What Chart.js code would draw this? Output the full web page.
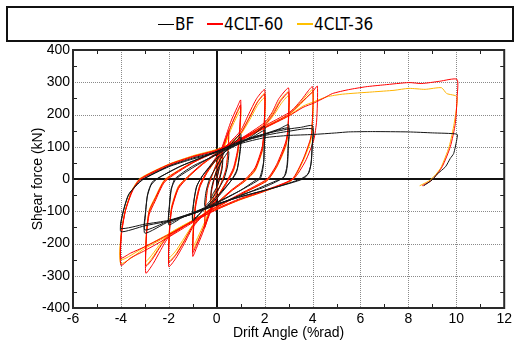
<!DOCTYPE html>
<html>
<head>
<meta charset="utf-8">
<script src="https://cdn.jsdelivr.net/npm/chart.js@4.4.1/dist/chart.umd.min.js"></script>
<style>
  html, body { margin: 0; padding: 0; background: #fff; }
  #wrap { position: relative; width: 515px; height: 343px; overflow: hidden; }
  #chart { position: absolute; left: 0; top: 0; }
  #legend {
    position: absolute; left: 6px; top: 6px; width: 508px; height: 36px;
    box-sizing: border-box; border: 2px solid #111; background: #fff;
    font-family: "Liberation Sans Narrow", "DejaVu Sans Condensed", "Liberation Sans", sans-serif;
    font-size: 17px; color: #000;
  }
  .item { position: absolute; top: 6px; line-height: 20px; white-space: nowrap; }
  .swatch { display: inline-block; width: 16px; vertical-align: middle; margin-right: 1px; position: relative; top: -1px; }
</style>
</head>
<body>
<div id="wrap">
  <canvas id="chart" width="515" height="343"></canvas>
  <div id="legend">
    <span class="item" style="left:150px"><span class="swatch" style="border-top:1.5px solid #000"></span>BF</span>
    <span class="item" style="left:199px"><span class="swatch" style="border-top:2px solid #ff0000"></span>4CLT-60</span>
    <span class="item" style="left:289px"><span class="swatch" style="border-top:2px solid #ffc000"></span>4CLT-36</span>
  </div>
</div>
<script>
// Axis ticks
const driftTicks = [-6, -4, -2, 0, 2, 4, 6, 8, 10, 12];
const shearTicks = [-400, -300, -200, -100, 0, 100, 200, 300, 400];

// Series names and colours
const seriesNames = ['BF', '4CLT-60', '4CLT-36'];
const seriesColors = ['#141414', '#ff0000', '#ffb400'];

// BF: [drift %rad, shear kN] along the loading history
const bfPath = [
  [0,0],[0.15,45],[0.25,60],[0.22,30],[0.1,-5],[0,-25],[-0.15,-45],[-0.25,-60],[-0.22,-30],[-0.1,5],[0,25],
  [0.25,60],[0.5,85],[0.45,40],[0.3,0],[0,-40],[-0.25,-65],[-0.5,-85],[-0.45,-40],[-0.3,0],[0,40],
  [0.3,80],[0.6,108],[1.0,140],[0.97,90],[0.85,30],[0.6,-5],[0,-55],[-0.5,-90],[-1.0,-130],[-0.97,-80],[-0.85,-25],[-0.6,10],[0,60],
  [0.5,95],[1.0,130],[0.97,80],[0.82,20],[0.5,-15],[0,-60],[-0.5,-92],[-1.0,-125],[-0.97,-75],[-0.82,-20],[-0.5,20],[0,65],
  [0.5,92],[1.0,112],[1.5,135],[2.0,163],[1.99,120],[1.97,60],[1.9,20],[1.8,0],[1.0,-35],[0,-72],[-1.0,-105],[-1.5,-122],[-2.0,-142],[-1.98,-90],[-1.9,-35],[-1.75,0],[-1.0,40],[0,75],
  [0.5,95],[1.0,112],[1.5,130],[2.0,150],[1.98,100],[1.95,50],[1.8,5],[1.6,-5],[1.0,-35],[0,-75],[-1.0,-108],[-1.5,-120],[-2.0,-135],[-1.98,-85],[-1.9,-30],[-1.7,0],[-1.0,35],[0,78],
  [1.0,115],[2.0,140],[2.6,155],[3.0,168],[2.99,110],[2.96,50],[2.88,15],[2.7,0],[2.0,-25],[1.0,-50],[0,-80],[-1.0,-108],[-2.0,-132],[-3.0,-168],[-2.98,-115],[-2.9,-55],[-2.75,-20],[-2.5,0],[-1.5,40],[0,85],
  [1.0,115],[2.0,138],[3.0,158],[2.98,100],[2.93,40],[2.8,5],[2.5,-5],[1.0,-52],[0,-80],[-1.0,-108],[-2.0,-130],[-3.0,-158],[-2.97,-100],[-2.88,-45],[-2.7,-10],[-2.4,5],[-1.5,40],[0,85],
  [1.0,118],[2.0,140],[3.0,155],[3.5,160],[4.0,165],[3.99,110],[3.95,55],[3.85,20],[3.6,0],[2.5,-25],[1.0,-55],[0,-78],[-1.0,-105],[-2.0,-130],[-3.0,-145],[-4.0,-163],[-3.93,-111],[-3.69,-50],[-3.13,-3],[-2.0,40],[-1.0,65],[0,85],
  [1.0,115],[2.0,135],[3.0,148],[4.0,155],[3.98,100],[3.93,45],[3.8,15],[3.5,0],[2.5,-25],[1.0,-55],[0,-78],[-1.0,-105],[-2.0,-128],[-3.0,-140],[-4.0,-153],[-3.92,-105],[-3.65,-45],[-3.1,-3],[-2.0,38],[-1.0,62],[0,82],
  [1.0,110],[2.0,128],[3.0,135],[4.0,138],[5.0,143],[5.5,146],[6.5,147],[8.0,146],[9.0,143],[10.03,139],[10.03,126],[9.89,79],[9.75,64],[9.55,38],[9.2,15],[8.99,-3],[8.64,-21]
];

// 4CLT-60
const clt60Path = [
  [0,0],[0.1,40],[0.25,90],[0.22,40],[0.1,0],[0,-30],[-0.1,-50],[-0.25,-90],[-0.22,-40],[-0.1,0],[0,30],
  [0.2,80],[0.35,115],[0.5,150],[0.47,90],[0.38,30],[0.2,-10],[0,-45],[-0.2,-85],[-0.35,-115],[-0.5,-150],[-0.47,-90],[-0.38,-30],[-0.2,10],[0,50],
  [0.3,115],[0.6,180],[0.85,222],[1.0,245],[0.97,170],[0.88,95],[0.7,35],[0.4,-10],[0,-60],[-0.3,-110],[-0.6,-170],[-0.85,-215],[-1.0,-240],[-0.97,-160],[-0.88,-85],[-0.7,-25],[-0.4,20],[0,65],
  [0.3,110],[0.6,165],[0.85,208],[1.0,230],[0.97,160],[0.88,85],[0.7,28],[0.4,-15],[0,-62],[-0.3,-105],[-0.6,-160],[-0.85,-205],[-1.0,-228],[-0.97,-150],[-0.88,-75],[-0.7,-18],[-0.4,25],[0,70],
  [0.5,110],[1.0,150],[1.32,199],[1.67,250],[2.0,277],[1.97,155],[1.9,100],[1.6,35],[1.2,0],[0.6,-35],[0,-75],[-0.6,-115],[-1.0,-150],[-1.35,-200],[-1.7,-245],[-2.0,-272],[-1.97,-165],[-1.88,-95],[-1.6,-30],[-1.2,5],[-0.6,45],[0,78],
  [0.5,108],[1.0,142],[1.35,188],[1.7,238],[2.0,262],[1.97,145],[1.9,90],[1.6,28],[1.2,-5],[0.6,-38],[0,-78],[-0.6,-115],[-1.0,-145],[-1.35,-192],[-1.7,-235],[-2.0,-258],[-1.97,-155],[-1.88,-88],[-1.6,-25],[-1.2,8],[-0.6,48],[0,82],
  [1.0,125],[2.0,175],[2.3,205],[2.6,250],[3.0,282],[2.97,155],[2.88,115],[2.5,45],[2.1,0],[1.0,-45],[0,-85],[-1.0,-130],[-2.0,-180],[-2.35,-222],[-2.65,-262],[-2.96,-292],[-2.93,-173],[-2.82,-110],[-2.58,-70],[-2.16,-8],[-1.0,50],[0,85],
  [1.0,122],[2.0,168],[2.35,200],[2.65,240],[3.0,268],[2.97,145],[2.88,105],[2.5,38],[2.1,-5],[1.0,-48],[0,-88],[-1.0,-130],[-2.0,-175],[-2.4,-215],[-2.7,-250],[-2.96,-270],[-2.93,-165],[-2.82,-100],[-2.58,-62],[-2.16,-3],[-1.0,52],[0,88],
  [1.0,125],[2.0,165],[3.0,205],[3.26,222],[3.53,245],[4.0,286],[3.97,150],[3.9,121],[3.6,60],[3.15,0],[2.0,-35],[1.0,-60],[0,-92],[-1.0,-135],[-2.0,-180],[-3.0,-222],[-3.6,-245],[-4.0,-268],[-3.98,-175],[-3.82,-101],[-3.55,-39],[-3.2,0],[-2.0,45],[-1.0,70],[0,90],
  [1.0,122],[2.0,160],[3.0,200],[3.5,235],[4.0,270],[4.2,288],[4.17,180],[4.05,121],[3.7,55],[3.2,0],[2.0,-38],[1.0,-63],[0,-95],[-1.0,-132],[-2.0,-172],[-3.0,-210],[-3.6,-230],[-4.0,-245],[-3.98,-165],[-3.8,-95],[-3.5,-35],[-3.15,0],[-2.0,42],[-1.0,68],[0,88],
  [1.0,120],[2.0,158],[3.0,195],[3.6,222],[4.07,236],[4.5,252],[4.83,265],[5.5,277],[6.22,286],[7.0,292],[8.02,299],[8.56,296],[9.3,303],[10.03,309],[10.03,250],[9.96,172],[9.75,100],[9.41,38],[8.99,-3],[8.58,-21]
];

// 4CLT-36
const clt36Path = [
  [0,0],[0.1,35],[0.25,80],[0.22,35],[0.1,-5],[0,-30],[-0.1,-45],[-0.25,-80],[-0.22,-35],[-0.1,5],[0,30],
  [0.2,75],[0.35,105],[0.5,135],[0.47,80],[0.38,25],[0.2,-10],[0,-45],[-0.2,-80],[-0.35,-105],[-0.5,-135],[-0.47,-80],[-0.38,-25],[-0.2,10],[0,48],
  [0.3,105],[0.6,165],[0.85,205],[1.0,224],[0.97,155],[0.88,85],[0.7,30],[0.4,-10],[0,-58],[-0.3,-105],[-0.6,-160],[-0.85,-200],[-1.0,-220],[-0.97,-150],[-0.88,-80],[-0.7,-22],[-0.4,20],[0,62],
  [0.3,100],[0.6,155],[0.85,195],[1.0,212],[0.97,145],[0.88,78],[0.7,25],[0.4,-12],[0,-60],[-0.3,-100],[-0.6,-150],[-0.85,-190],[-1.0,-210],[-0.97,-140],[-0.88,-72],[-0.7,-18],[-0.4,22],[0,66],
  [0.5,105],[1.0,142],[1.35,190],[1.7,240],[2.0,265],[1.97,150],[1.9,95],[1.6,32],[1.2,-2],[0.6,-35],[0,-75],[-0.6,-112],[-1.0,-145],[-1.35,-190],[-1.7,-232],[-2.0,-255],[-1.97,-155],[-1.88,-90],[-1.6,-28],[-1.2,5],[-0.6,45],[0,78],
  [0.5,103],[1.0,138],[1.35,180],[1.7,228],[2.0,252],[1.97,140],[1.9,86],[1.6,25],[1.2,-5],[0.6,-38],[0,-78],[-0.6,-112],[-1.0,-142],[-1.35,-182],[-1.7,-222],[-2.0,-244],[-1.97,-148],[-1.88,-84],[-1.6,-22],[-1.2,8],[-0.6,46],[0,80],
  [1.0,122],[2.0,170],[2.35,205],[2.65,245],[3.0,270],[2.97,150],[2.88,110],[2.5,42],[2.1,-2],[1.0,-47],[0,-86],[-1.0,-128],[-2.0,-172],[-2.4,-212],[-2.7,-245],[-2.96,-268],[-2.93,-165],[-2.82,-105],[-2.58,-65],[-2.16,-5],[-1.0,50],[0,86],
  [1.0,120],[2.0,165],[2.4,200],[2.7,235],[3.0,258],[2.97,140],[2.88,100],[2.5,36],[2.1,-5],[1.0,-48],[0,-88],[-1.0,-128],[-2.0,-170],[-2.4,-205],[-2.7,-235],[-2.96,-255],[-2.93,-158],[-2.82,-96],[-2.58,-58],[-2.16,-1],[-1.0,52],[0,88],
  [1.0,122],[2.0,162],[3.0,200],[3.5,238],[4.0,276],[3.97,148],[3.9,118],[3.6,58],[3.15,-2],[2.0,-36],[1.0,-62],[0,-92],[-1.0,-132],[-2.0,-175],[-3.0,-215],[-4.0,-262],[-3.98,-170],[-3.82,-98],[-3.55,-36],[-3.2,2],[-2.0,46],[-1.0,72],[0,92],
  [1.0,122],[2.0,160],[3.0,198],[3.5,232],[4.0,268],[3.97,140],[3.9,112],[3.6,55],[3.15,-3],[2.0,-38],[1.0,-64],[0,-94],[-1.0,-130],[-2.0,-170],[-3.0,-210],[-4.0,-250],[-3.98,-162],[-3.8,-92],[-3.5,-32],[-3.15,2],[-2.0,45],[-1.0,70],[0,90],
  [1.0,120],[2.0,158],[3.0,196],[3.6,226],[4.07,240],[4.6,255],[5.25,263],[6.5,270],[7.4,275],[8.02,281],[8.7,278],[9.38,283],[9.6,265],[10.03,255],[9.91,172],[9.7,100],[9.34,33],[8.92,-3],[8.47,-21]
];

const paths = [bfPath, clt60Path, clt36Path];

const datasets = paths.map((p, i) => ({
  label: seriesNames[i],
  data: p.map(([x, y]) => ({ x, y })),
  showLine: true,
  borderColor: seriesColors[i],
  borderWidth: 1,
  pointRadius: 0,
  pointHoverRadius: 0,
  tension: 0.2,
  fill: false
}));

// Dotted grid, bold zero lines, frame and inward minor ticks
const frame = {
  id: 'frame',
  beforeDatasetsDraw(chart) {
    const { ctx, chartArea: a, scales: { x, y } } = chart;
    ctx.save();
    ctx.strokeStyle = '#8a8a8a';
    ctx.lineWidth = 1;
    ctx.setLineDash([1, 1]);
    driftTicks.forEach(v => {
      if (v === 0 || v === driftTicks[0] || v === driftTicks[driftTicks.length - 1]) return;
      const px = Math.round(x.getPixelForValue(v)) + 0.5;
      ctx.beginPath(); ctx.moveTo(px, a.top); ctx.lineTo(px, a.bottom); ctx.stroke();
    });
    shearTicks.forEach(v => {
      if (v === 0 || v === shearTicks[0] || v === shearTicks[shearTicks.length - 1]) return;
      const py = Math.round(y.getPixelForValue(v)) + 0.5;
      ctx.beginPath(); ctx.moveTo(a.left, py); ctx.lineTo(a.right, py); ctx.stroke();
    });
    ctx.setLineDash([]);
    ctx.strokeStyle = '#111';
    ctx.lineWidth = 2;
    const x0 = Math.round(x.getPixelForValue(0));
    const y0 = Math.round(y.getPixelForValue(0));
    ctx.beginPath(); ctx.moveTo(x0, a.top); ctx.lineTo(x0, a.bottom); ctx.stroke();
    ctx.beginPath(); ctx.moveTo(a.left, y0); ctx.lineTo(a.right, y0); ctx.stroke();
    ctx.restore();
  },
  afterDatasetsDraw(chart) {
    const { ctx, chartArea: a, scales: { x, y } } = chart;
    ctx.save();
    ctx.strokeStyle = '#222';
    ctx.lineWidth = 1;
    const len = 4;
    for (let i = 0; i < driftTicks.length - 1; i++) {
      const px = Math.round(x.getPixelForValue((driftTicks[i] + driftTicks[i + 1]) / 2)) + 0.5;
      ctx.beginPath(); ctx.moveTo(px, a.bottom); ctx.lineTo(px, a.bottom - len); ctx.stroke();
      ctx.beginPath(); ctx.moveTo(px, a.top); ctx.lineTo(px, a.top + len); ctx.stroke();
    }
    for (let i = 0; i < shearTicks.length - 1; i++) {
      const py = Math.round(y.getPixelForValue((shearTicks[i] + shearTicks[i + 1]) / 2)) + 0.5;
      ctx.beginPath(); ctx.moveTo(a.left, py); ctx.lineTo(a.left + len, py); ctx.stroke();
      ctx.beginPath(); ctx.moveTo(a.right, py); ctx.lineTo(a.right - len, py); ctx.stroke();
    }
    ctx.strokeStyle = '#2a2a2a';
    ctx.lineWidth = 2;
    ctx.strokeRect(a.left, a.top, a.right - a.left, a.bottom - a.top);
    ctx.restore();
  }
};

const tickFont = { family: '"Liberation Sans", Arial, sans-serif', size: 14 };

new Chart(document.getElementById('chart'), {
  type: 'scatter',
  data: { datasets },
  options: {
    responsive: false,
    animation: false,
    events: [],
    layout: { padding: { top: 50, right: 9, left: 0, bottom: 0 } },
    plugins: { legend: { display: false }, tooltip: { enabled: false } },
    scales: {
      x: {
        type: 'linear',
        min: driftTicks[0],
        max: driftTicks[driftTicks.length - 1],
        afterBuildTicks: s => { s.ticks = driftTicks.map(v => ({ value: v })); },
        afterFit: s => { s.height = 35; },
        grid: { display: false, drawTicks: false },
        border: { display: false },
        ticks: { color: '#000', font: tickFont, padding: 3, maxRotation: 0 },
        title: { display: true, text: 'Drift Angle (%rad)', color: '#000', font: tickFont, padding: { top: 1, bottom: 1 } }
      },
      y: {
        type: 'linear',
        min: shearTicks[0],
        max: shearTicks[shearTicks.length - 1],
        afterBuildTicks: s => { s.ticks = shearTicks.map(v => ({ value: v })); },
        afterFit: s => { s.width = 73; },
        grid: { display: false, drawTicks: false },
        border: { display: false },
        ticks: { color: '#000', font: tickFont, padding: 3 },
        title: { display: true, text: 'Shear force (kN)', color: '#000', font: tickFont, padding: { top: 30, bottom: 30 } }
      }
    }
  },
  plugins: [frame]
});
</script>
</body>
</html>
